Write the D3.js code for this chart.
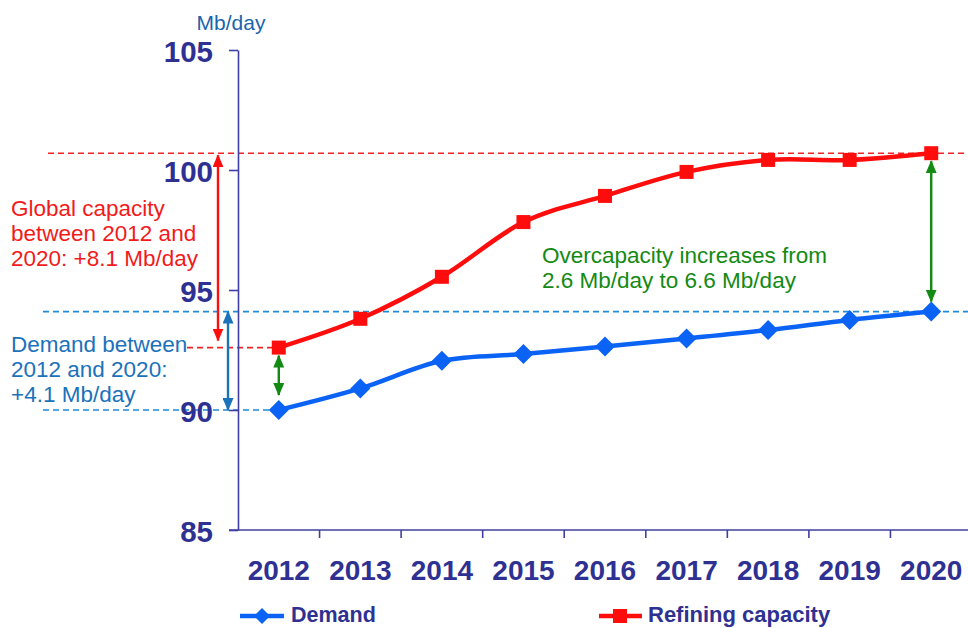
<!DOCTYPE html>
<html>
<head>
<meta charset="utf-8">
<script src="https://cdn.jsdelivr.net/npm/d3@7"></script>
<style>
  html, body { margin: 0; padding: 0; background: #fff; }
  svg { display: block; font-family: "Liberation Sans", Arial, sans-serif; }
</style>
</head>
<body>
<svg id="chart" width="968" height="628"></svg>
<script>
// World oil demand vs refining capacity, Mb/day
const years = ["2012", "2013", "2014", "2015", "2016", "2017", "2018", "2019", "2020"];
const demand = [90.0, 90.9, 92.05, 92.33, 92.65, 92.98, 93.33, 93.75, 94.1];
const capacity = [92.6, 93.8, 95.55, 97.83, 98.92, 99.92, 100.42, 100.42, 100.7];
const yTicks = [85, 90, 95, 100, 105];
const unitLabel = "Mb/day";

const capacityNote = ["Global capacity", "between 2012 and", "2020: +8.1 Mb/day"];
const demandNote = ["Demand between", "2012 and 2020:", "+4.1 Mb/day"];
const overNote = ["Overcapacity increases from", "2.6 Mb/day to 6.6 Mb/day"];
const legendItems = ["Demand", "Refining capacity"];

const C = {
  axis: "#3f3fa3",
  tick: "#2e3192",
  blue: "#0b63f6",
  red: "#ff0d0d",
  green: "#138a13",
  redNote: "#f21a1a",
  blueNote: "#1b72ba",
  blueDash: "#1f8bd8",
  redDash: "#f02424",
  unit: "#1a64ad"
};

const svg = d3.select("#chart");
const plot = { left: 238, right: 972, top: 50, bottom: 530 };

const x = d3.scaleBand().domain(years).range([plot.left, plot.right]).padding(0);
const y = d3.scaleLinear().domain([85, 105]).range([plot.bottom, plot.top]);
const cx = d => x(d) + x.bandwidth() / 2;

// Arrowhead markers
const defs = svg.append("defs");
function addMarker(id, color) {
  defs.append("marker")
    .attr("id", id)
    .attr("viewBox", "0 0 13 11")
    .attr("refX", 12).attr("refY", 5.5)
    .attr("markerWidth", 13).attr("markerHeight", 11)
    .attr("markerUnits", "userSpaceOnUse")
    .attr("orient", "auto-start-reverse")
    .append("path")
    .attr("d", "M0,0 L13,5.5 L0,11 Z")
    .attr("fill", color);
}
addMarker("ah-red", C.red);
addMarker("ah-blue", C.blueNote);
addMarker("ah-green", C.green);

// Dashed guide lines at the start / end levels
const guides = [
  { v: capacity[capacity.length - 1], x0: 48, x1: 968, color: C.redDash },
  { v: demand[demand.length - 1], x0: 43, x1: 968, color: C.blueDash },
  { v: capacity[0], x0: 187, x1: cx(years[0]), color: C.redDash },
  { v: demand[0], x0: 43, x1: cx(years[0]), color: C.blueDash }
];
svg.append("g").selectAll("line").data(guides).join("line")
  .attr("x1", d => d.x0).attr("x2", d => d.x1)
  .attr("y1", d => y(d.v)).attr("y2", d => y(d.v))
  .attr("stroke", d => d.color)
  .attr("stroke-width", 1.6)
  .attr("stroke-dasharray", "6,4");

// Y axis (ticks point left)
const yAxis = d3.axisLeft(y).tickValues(yTicks).tickSize(9).tickSizeOuter(0).tickPadding(16);
const gy = svg.append("g").attr("transform", `translate(${plot.left},0)`).call(yAxis);
gy.select(".domain").attr("stroke", C.axis).attr("stroke-width", 1.6);
gy.selectAll(".tick line").attr("stroke", C.axis).attr("stroke-width", 1.6);
gy.selectAll(".tick text")
  .attr("fill", C.tick).attr("font-size", 29.5).attr("font-weight", "bold")
  .attr("dy", "0.38em")
  .attr("font-family", "'Liberation Sans', Arial, sans-serif");

// X axis: labels centred in bands, tick marks at band boundaries
const xAxis = d3.axisBottom(x).tickSize(0).tickSizeOuter(0);
const gx = svg.append("g").attr("transform", `translate(0,${plot.bottom})`).call(xAxis);
gx.select(".domain").attr("stroke", C.axis).attr("stroke-width", 1.6)
  .attr("d", `M${plot.left - 9},0H${plot.right}`);
gx.selectAll(".tick text")
  .attr("y", 50).attr("dy", 0)
  .attr("fill", C.tick).attr("font-size", 28).attr("font-weight", "bold")
  .attr("font-family", "'Liberation Sans', Arial, sans-serif");
svg.append("g").selectAll("line").data(years.slice(1)).join("line")
  .attr("x1", d => x(d)).attr("x2", d => x(d))
  .attr("y1", plot.bottom).attr("y2", plot.bottom + 8)
  .attr("stroke", C.axis).attr("stroke-width", 1.6);

// Unit label
svg.append("text").attr("x", 231).attr("y", 30)
  .attr("text-anchor", "middle").attr("font-size", 21)
  .attr("fill", C.unit).text(unitLabel);

// Double-headed arrows
function dArrow(xPos, v1, v2, inset1, inset2, color, marker) {
  const y1 = y(v1), y2 = y(v2);
  const dir = y2 > y1 ? 1 : -1;
  svg.append("line")
    .attr("x1", xPos).attr("x2", xPos)
    .attr("y1", y1 + dir * inset1).attr("y2", y2 - dir * inset2)
    .attr("stroke", color).attr("stroke-width", 2.4)
    .attr("marker-start", `url(#${marker})`)
    .attr("marker-end", `url(#${marker})`);
}
const last = years.length - 1;
dArrow(plot.left - 20, capacity[last], capacity[0], 2, 7, C.red, "ah-red");
dArrow(plot.left - 10, demand[last], demand[0], 0, 0, C.blueNote, "ah-blue");
dArrow(cx(years[0]), capacity[0], demand[0], 8, 15, C.green, "ah-green");
dArrow(cx(years[last]), capacity[last], demand[last], 8, 10, C.green, "ah-green");

// Series lines
const line = d3.line()
  .x((d, i) => cx(years[i]))
  .y(d => y(d))
  .curve(d3.curveCardinal.tension(0));

svg.append("path").datum(demand)
  .attr("d", line).attr("fill", "none")
  .attr("stroke", C.blue).attr("stroke-width", 4.5).attr("stroke-linejoin", "round");
svg.append("path").datum(capacity)
  .attr("d", line).attr("fill", "none")
  .attr("stroke", C.red).attr("stroke-width", 4.5).attr("stroke-linejoin", "round");

// Markers
const diamond = r => `M0,${-r}L${r},0L0,${r}L${-r},0Z`;
svg.append("g").selectAll("path").data(demand).join("path")
  .attr("transform", (d, i) => `translate(${cx(years[i])},${y(d)})`)
  .attr("d", diamond(10)).attr("fill", C.blue);
svg.append("g").selectAll("rect").data(capacity).join("rect")
  .attr("x", (d, i) => cx(years[i]) - 7).attr("y", d => y(d) - 7)
  .attr("width", 14).attr("height", 14).attr("fill", C.red);

// Annotation texts
function note(lines, x0, y0, color, size) {
  const t = svg.append("text").attr("x", x0).attr("y", y0)
    .attr("fill", color).attr("font-size", size);
  lines.forEach((s, i) => t.append("tspan").attr("x", x0).attr("dy", i ? 25 : 0).text(s));
}
note(capacityNote, 11, 216, C.redNote, 22.5);
note(demandNote, 11, 352, C.blueNote, 22.5);
note(overNote, 542, 263, C.green, 22.5);

// Legend
const lg = svg.append("g");
const legY = 616;
lg.append("line").attr("x1", 240).attr("x2", 284).attr("y1", legY).attr("y2", legY)
  .attr("stroke", C.blue).attr("stroke-width", 4.5);
lg.append("path").attr("transform", `translate(262,${legY})`).attr("d", diamond(8)).attr("fill", C.blue);
lg.append("text").attr("x", 291).attr("y", legY + 6).attr("font-size", 21.5).attr("font-weight", "bold")
  .attr("fill", C.tick).text(legendItems[0]);
lg.append("line").attr("x1", 599).attr("x2", 642).attr("y1", legY).attr("y2", legY)
  .attr("stroke", C.red).attr("stroke-width", 4.5);
lg.append("rect").attr("x", 613).attr("y", legY - 7).attr("width", 14).attr("height", 14).attr("fill", C.red);
lg.append("text").attr("x", 648).attr("y", legY + 6).attr("font-size", 22).attr("font-weight", "bold")
  .attr("fill", C.tick).text(legendItems[1]);
</script>
</body>
</html>
